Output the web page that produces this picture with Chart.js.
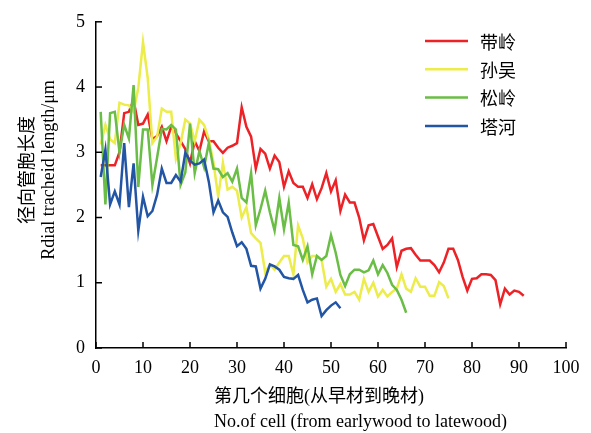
<!DOCTYPE html>
<html><head><meta charset="utf-8">
<script src="https://cdn.jsdelivr.net/npm/chart.js@4.4.1/dist/chart.umd.min.js"></script>
<style>html,body{margin:0;padding:0;background:#fff}canvas{display:block}</style>
</head><body>
<canvas id="c" width="591" height="433"></canvas>
<script>
// ---- data ----
const seriesNames = ['带岭', '孙吴', '松岭', '塔河'];
const daiLing = [2.8,2.8,2.8,2.8,3.0,3.6,3.62,3.8,3.42,3.44,3.58,3.2,3.25,3.39,3.17,3.39,3.29,3.17,3.05,2.83,
  3.17,3.02,3.32,3.17,3.17,3.07,2.99,3.07,3.1,3.14,3.69,3.39,3.24,2.75,3.05,2.98,2.75,2.95,2.85,2.47,
  2.71,2.53,2.47,2.47,2.3,2.51,2.28,2.45,2.68,2.4,2.57,2.1,2.35,2.23,2.23,2.0,1.65,1.88,1.9,1.71,
  1.52,1.58,1.68,1.24,1.49,1.52,1.53,1.43,1.34,1.34,1.34,1.27,1.16,1.31,1.52,1.52,1.35,1.09,0.88,1.06,
  1.07,1.13,1.13,1.12,1.04,0.67,0.91,0.82,0.88,0.86,0.8];
const sunWu = [3.12,3.42,3.2,3.14,3.76,3.73,3.72,3.62,3.99,4.69,4.14,3.14,3.24,3.67,3.62,3.62,2.9,3.14,3.5,3.44,
  3.17,3.5,3.42,3.2,2.84,2.32,2.84,2.43,2.47,2.41,2.0,2.16,1.76,1.68,1.61,1.16,1.28,1.2,1.31,1.41,
  1.41,1.13,1.88,1.68,1.31,1.41,1.41,1.35,0.94,1.06,0.86,0.98,0.82,0.82,0.86,0.74,1.06,0.86,1.0,0.79,
  0.89,0.79,0.86,0.91,1.13,0.91,0.86,1.07,0.94,0.94,0.8,0.8,1.01,0.95,0.76];
const songLing = [3.62,2.2,3.6,3.62,3.0,3.42,3.21,4.03,2.47,3.35,3.35,2.5,2.92,3.36,3.35,3.42,3.35,2.5,2.69,3.44,
  2.68,3.02,2.77,3.14,2.75,2.74,2.62,2.68,2.55,2.75,2.3,2.23,2.68,1.88,2.13,2.41,2.08,1.8,2.3,1.82,
  2.23,1.58,1.56,1.35,1.56,1.13,1.41,1.35,1.41,1.73,1.46,1.12,0.95,1.13,1.2,1.2,1.16,1.19,1.34,1.13,
  1.27,1.15,0.97,0.89,0.74,0.54];
const taHe = [2.62,3.04,2.2,2.4,2.2,3.14,2.16,2.83,1.8,2.32,2.02,2.1,2.35,2.75,2.53,2.53,2.65,2.55,2.99,2.87,
  2.81,2.83,2.89,2.55,2.08,2.26,2.08,2.01,1.77,1.56,1.62,1.52,1.26,1.25,0.91,1.06,1.28,1.25,1.2,1.09,
  1.07,1.06,1.12,0.89,0.7,0.74,0.76,0.49,0.58,0.65,0.7,0.61];
const xTicks = [0,10,20,30,40,50,60,70,80,90,100];
const yTicks = [0,1,2,3,4,5];
const xTitle = ['第几个细胞(从早材到晚材)', 'No.of cell (from earlywood to latewood)'];
const yTitle = ['径向管胞长度', 'Rdial tracheid length/μm'];

// ---- styles ----
const colors = ['#ec2227', '#ecec4a', '#6abd45', '#2255a4'];
const FAMILY = "'Liberation Serif', 'Times New Roman', 'Noto Sans CJK SC', serif";
const FONT = '18px ' + FAMILY;

const allSeries = [daiLing, sunWu, songLing, taHe];
const toPoints = arr => arr.map((v, i) => ({x: i + 1, y: v}));

const decor = {
  id: 'decor',
  afterDraw(chart) {
    const {ctx, chartArea: a, scales: {x, y}} = chart;
    ctx.save();
    ctx.strokeStyle = '#000';
    ctx.lineWidth = 1.5;
    xTicks.forEach(v => {
      const px = x.getPixelForValue(v);
      ctx.beginPath(); ctx.moveTo(px, a.bottom); ctx.lineTo(px, a.bottom - 6); ctx.stroke();
    });
    yTicks.forEach(v => {
      const py = y.getPixelForValue(v);
      ctx.beginPath(); ctx.moveTo(a.left, py); ctx.lineTo(a.left + 6, py); ctx.stroke();
    });
    ctx.fillStyle = '#000';
    ctx.font = FONT;
    ctx.textBaseline = 'middle';
    ctx.textAlign = 'left';
    ctx.fillText(xTitle[0], 214, 397);
    ctx.fillText(xTitle[1], 214, 422);
    ctx.textAlign = 'center';
    [[28, yTitle[0]], [49, yTitle[1]]].forEach(([tx, t]) => {
      ctx.save(); ctx.translate(tx, 170); ctx.rotate(-Math.PI / 2); ctx.fillText(t, 0, 0); ctx.restore();
    });
    // legend
    ctx.textAlign = 'left';
    ctx.lineWidth = 2.5;
    seriesNames.forEach((n, i) => {
      const ly = 41 + i * 28.3;
      ctx.strokeStyle = colors[i];
      ctx.beginPath(); ctx.moveTo(425, ly); ctx.lineTo(468, ly); ctx.stroke();
      ctx.fillText(n, 480, ly + 3);
    });
    ctx.restore();
  }
};

new Chart(document.getElementById('c'), {
  type: 'line',
  data: {
    datasets: allSeries.map((arr, i) => ({
      label: seriesNames[i],
      data: toPoints(arr),
      borderColor: colors[i],
      backgroundColor: colors[i],
      borderWidth: 2.5,
      pointRadius: 0,
      tension: 0,
      fill: false,
      order: 4 - i
    }))
  },
  options: {
    responsive: false,
    animation: false,
    events: [],
    layout: {padding: {left: 0, top: 12, right: 25, bottom: 0}},
    plugins: {legend: {display: false}, tooltip: {enabled: false}},
    scales: {
      x: {
        type: 'linear', min: 0, max: 100,
        afterBuildTicks: s => { s.ticks = xTicks.map(v => ({value: v})); },
        afterFit: s => { s.height = 85; },
        grid: {display: true, drawOnChartArea: false, drawTicks: false},
        border: {display: true, color: '#000', width: 1.5},
        ticks: {color: '#000', font: {family: FAMILY, size: 18}, padding: 9, maxRotation: 0, autoSkip: false}
      },
      y: {
        type: 'linear', min: 0, max: 5,
        afterBuildTicks: s => { s.ticks = yTicks.map(v => ({value: v})); },
        afterFit: s => { s.width = 96; },
        grid: {display: true, drawOnChartArea: false, drawTicks: false},
        border: {display: true, color: '#000', width: 1.5},
        ticks: {color: '#000', font: {family: FAMILY, size: 18}, padding: 11}
      }
    }
  },
  plugins: [decor]
});
</script>
</body></html>
